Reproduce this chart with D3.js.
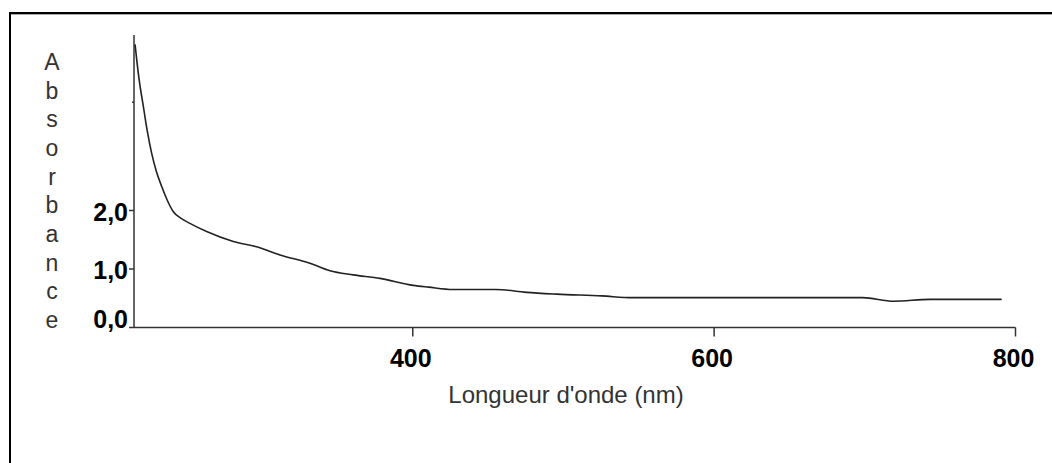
<!DOCTYPE html>
<html>
<head>
<meta charset="utf-8">
<script src="https://cdn.jsdelivr.net/npm/d3@7/dist/d3.min.js"></script>
<style>
  html, body { margin: 0; padding: 0; background: #fff; }
  svg { display: block; }
</style>
</head>
<body>
<svg id="chart" width="1052" height="463"></svg>
<script>
// Absorption spectrum: wavelength (nm) vs absorbance
const wavelength = [215.7, 216.8, 218.5, 221.2, 223.8, 226.7, 229.8, 233.4, 237.0, 241.1,
                    246.0, 252.1, 263.2, 280.9, 296.4, 311.9, 331.7, 345.0, 360.5, 378.2,
                    400.3, 410.4, 426.6, 455.1, 475.4, 495.6, 525.4, 545.8, 698.6, 719.1,
                    743.4, 790.8];
const absorbance = [4.84, 4.58, 4.22, 3.78, 3.36, 2.98, 2.67, 2.41, 2.18, 1.98,
                    1.87, 1.78, 1.64, 1.47, 1.38, 1.24, 1.10, 0.97, 0.90, 0.84,
                    0.72, 0.69, 0.65, 0.65, 0.60, 0.57, 0.54, 0.51, 0.51, 0.45,
                    0.48, 0.48];

const xTicks = [400, 600, 800];
const xTickLabels = ["400", "600", "800"];
const yTicks = [0, 1, 2];
const yTickLabels = ["0,0", "1,0", "2,0"];
const yMinorTicks = [3.85];
const xTitle = "Longueur d'onde (nm)";
const yTitle = "Absorbance";

const svg = d3.select("#chart");

// frame (top and left edges)
svg.append("line").attr("x1", 9).attr("x2", 1052).attr("y1", 13).attr("y2", 13)
  .attr("stroke", "#000").attr("stroke-width", 2);
svg.append("line").attr("x1", 9).attr("x2", 1052).attr("y1", 14.5).attr("y2", 14.5)
  .attr("stroke", "#aaa").attr("stroke-width", 1);
svg.append("line").attr("x1", 10).attr("x2", 10).attr("y1", 12).attr("y2", 463)
  .attr("stroke", "#000").attr("stroke-width", 2);

const x = d3.scaleLinear().domain([215, 800]).range([134, 1015.5]);
const y = d3.scaleLinear().domain([0, 5]).range([327.5, 35]);

const axisColor = "#333";
const font = "Liberation Sans, Arial, sans-serif";

// y axis line
svg.append("line").attr("x1", x(215)).attr("x2", x(215))
  .attr("y1", y(5)).attr("y2", y(0))
  .attr("stroke", axisColor).attr("stroke-width", 1.5);
// x axis line
svg.append("line").attr("x1", x(215)).attr("x2", x(800))
  .attr("y1", y(0)).attr("y2", y(0))
  .attr("stroke", axisColor).attr("stroke-width", 1.5);

// x ticks
const xg = svg.append("g");
xg.selectAll("line").data(xTicks).join("line")
  .attr("x1", d => x(d)).attr("x2", d => x(d))
  .attr("y1", y(0)).attr("y2", y(0) + 9)
  .attr("stroke", axisColor).attr("stroke-width", 1.5);
xg.selectAll("text").data(xTicks).join("text")
  .attr("x", d => x(d) - 2).attr("y", y(0) + 39)
  .attr("text-anchor", "middle")
  .attr("font-family", font)
  .attr("font-weight", "bold").attr("font-size", 25).attr("fill", "#000")
  .text((d, i) => xTickLabels[i]);

// y ticks
const yg = svg.append("g");
yg.selectAll("line.major").data(yTicks).join("line").attr("class", "major")
  .attr("x1", x(215) - 5).attr("x2", x(215))
  .attr("y1", d => y(d)).attr("y2", d => y(d))
  .attr("stroke", axisColor).attr("stroke-width", 1.5);
yg.selectAll("line.minor").data(yMinorTicks).join("line").attr("class", "minor")
  .attr("x1", x(215) - 2).attr("x2", x(215))
  .attr("y1", d => y(d)).attr("y2", d => y(d))
  .attr("stroke", axisColor).attr("stroke-width", 1.5);
yg.selectAll("text").data(yTicks).join("text")
  .attr("x", x(215) - 6)
  .attr("y", d => Math.min(y(d) + 10, y(0)))
  .attr("text-anchor", "end")
  .attr("font-family", font)
  .attr("font-weight", "bold").attr("font-size", 25).attr("fill", "#000")
  .text((d, i) => yTickLabels[i]);

// axis titles
svg.append("text")
  .attr("x", 566).attr("y", 403)
  .attr("text-anchor", "middle")
  .attr("font-family", font)
  .attr("font-size", 24).attr("fill", "#333")
  .text(xTitle);

svg.append("g").selectAll("text").data(yTitle.split("")).join("text")
  .attr("x", 52).attr("y", (d, i) => 70 + i * 28.67)
  .attr("text-anchor", "middle")
  .attr("font-family", font)
  .attr("font-size", 23).attr("fill", "#333")
  .text(d => d);

// spectrum curve
const pts = wavelength.map((w, i) => [w, absorbance[i]]);
svg.append("path")
  .datum(pts)
  .attr("fill", "none")
  .attr("stroke", "#222")
  .attr("stroke-width", 1.6)
  .attr("d", d3.line().curve(d3.curveMonotoneX).x(d => x(d[0])).y(d => y(d[1])));
</script>
</body>
</html>
